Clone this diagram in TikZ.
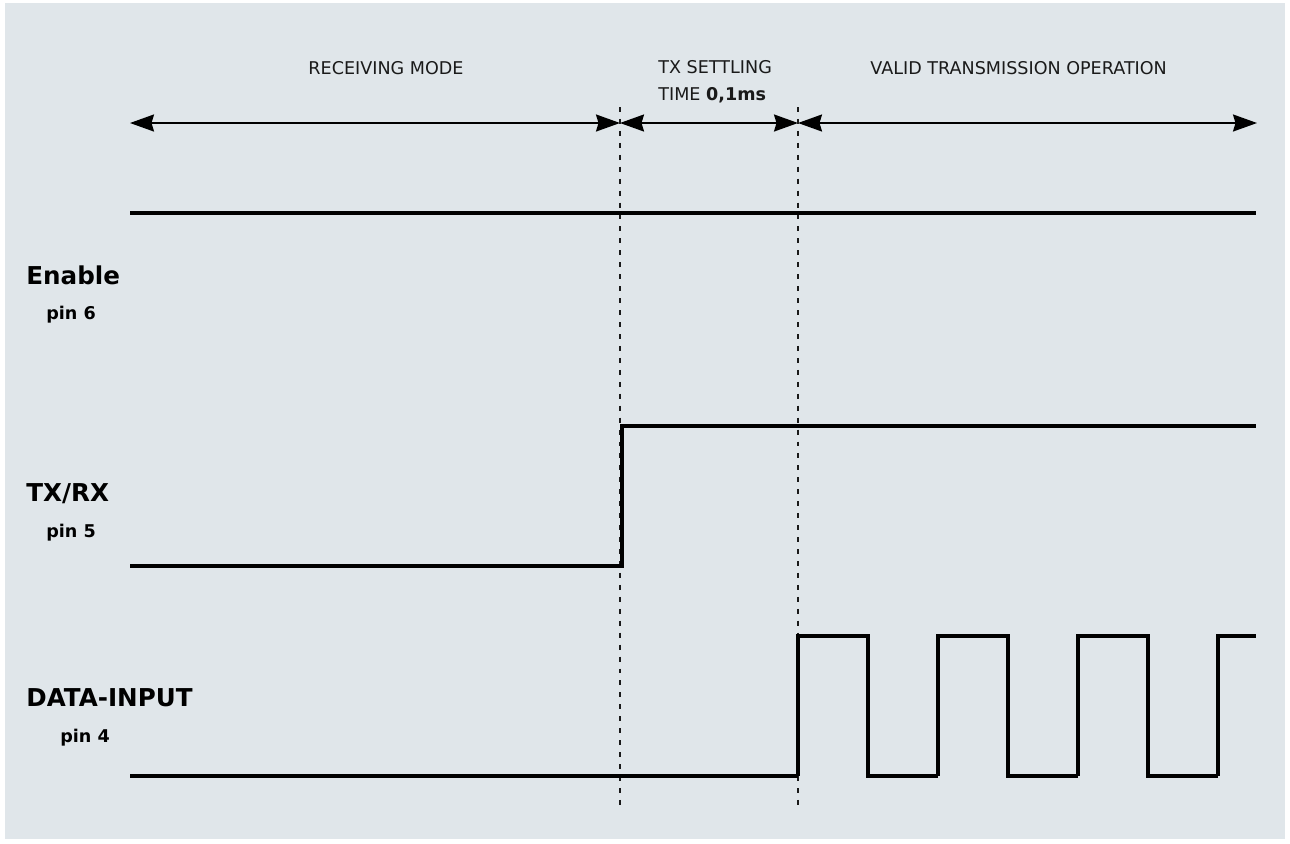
\documentclass[tikz,border=0pt]{standalone}
\usepackage{fontspec}
\setmainfont{DejaVu Sans}
\usepackage{xcolor}
\usepackage{tikz}
\usetikzlibrary{arrows.meta}

\definecolor{panel}{HTML}{E0E6EA}
\definecolor{ink}{HTML}{1A1A1A}

\begin{document}
\begin{tikzpicture}[x=0.02cm, y=-0.02cm,
  signal/.style={line width=2.6pt, line join=miter},
  span/.style={{Stealth[length=0.48cm, width=0.34cm, inset=0.05cm]}-{Stealth[length=0.48cm, width=0.34cm, inset=0.05cm]}, line width=1.1pt},
  marker/.style={line width=1.3pt, dash pattern=on 2.8pt off 4pt, ink},
  phase/.style={inner sep=0pt, anchor=base, text=ink, font=\fontsize{10}{15}\selectfont},
  pinname/.style={inner sep=0pt, anchor=base west, font=\fontsize{14}{16}\selectfont\bfseries},
  pinno/.style={inner sep=0pt, anchor=base west, font=\fontsize{10}{12}\selectfont\bfseries}]
  \useasboundingbox (0,0) rectangle (1290,843);
  \fill[panel] (5,3) rectangle (1285,839);

  % time marks
  \coordinate (t0) at (130,123);
  \coordinate (t1) at (620,123);
  \coordinate (t2) at (798,123);
  \coordinate (t3) at (1257,123);

  % phase labels
  \node[phase] (recv) at (386,74) {RECEIVING MODE};
  \node[phase, anchor=base west, align=left] (settle) at (658,100) {TX SETTLING\\TIME \textbf{0,1ms}};
  \node[phase, anchor=base west] (valid) at (870,74) {VALID TRANSMISSION OPERATION};

  % phase spans
  \draw[span] (t0) -- (t1);
  \draw[span] (t1) -- (t2);
  \draw[span] (t2) -- (t3);

  % dashed markers
  \draw[marker] (620,107) -- (620,808);
  \draw[marker] (798,107) -- (798,808);

  % signal names
  \node[pinname] (enable) at (26,284) {Enable};
  \node[pinno] (enablepin) at (46,319) {pin 6};
  \node[pinname] (txrx) at (26,501) {TX/RX};
  \node[pinno] (txrxpin) at (46,537) {pin 5};
  \node[pinname] (data) at (26,706) {DATA-INPUT};
  \node[pinno] (datapin) at (60,742) {pin 4};

  % Enable: always high
  \draw[signal] (130,213) -- (1256,213);

  % TX/RX: switches to transmit
  \draw[signal] (130,566) -- (622,566) -- (622,426) -- (1256,426);

  % DATA-INPUT: pulses after settling
  \draw[signal] (130,776) -- (798,776);
  \foreach \x in {798,938,1078} {
    \draw[signal] (\x,776) -- (\x,636) -- (\x+70,636) -- (\x+70,776) -- (\x+140,776);
  }
  \draw[signal] (1218,776) -- (1218,636) -- (1256,636);
\end{tikzpicture}
\end{document}
